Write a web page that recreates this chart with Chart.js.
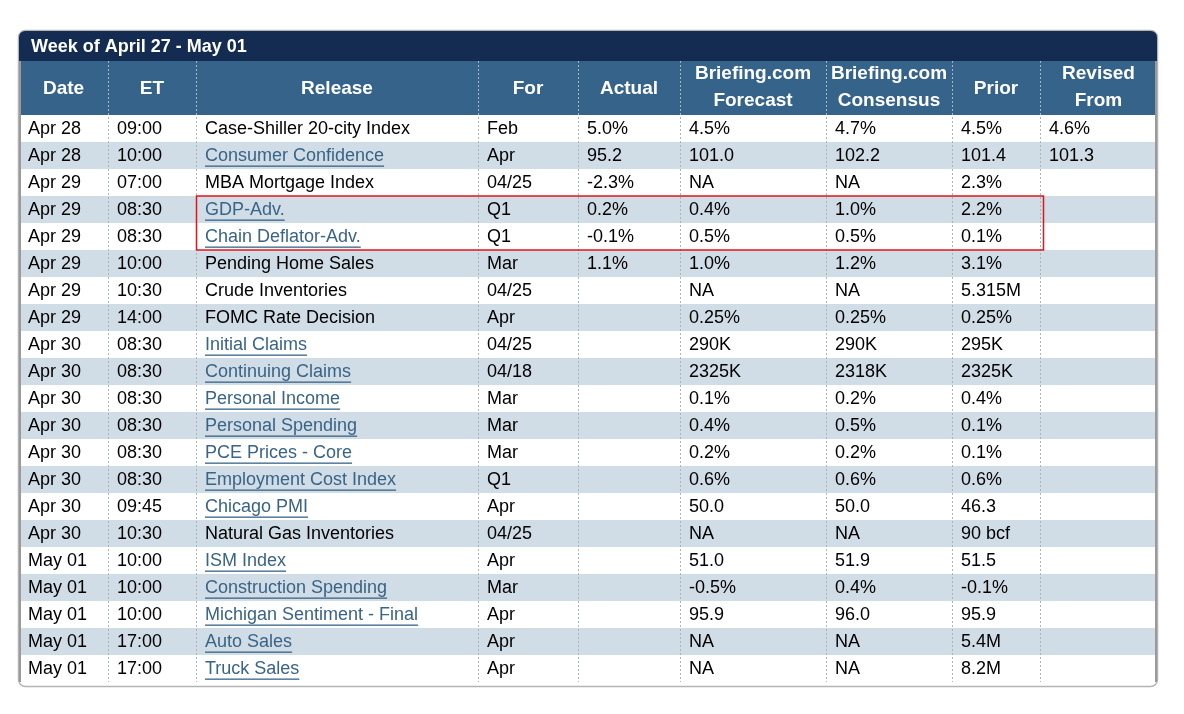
<!DOCTYPE html><html><head><meta charset="utf-8">
<script src="https://cdn.jsdelivr.net/npm/chart.js@4"></script>
<style>html,body{margin:0;background:#fff}#wrap{width:1184px;height:714px}</style></head><body>
<div id="wrap"><canvas id="c" width="1184" height="714"></canvas></div>
<script>
const title = "Week of April 27 - May 01";
const headers = [["Date"],["ET"],["Release"],["For"],["Actual"],["Briefing.com","Forecast"],["Briefing.com","Consensus"],["Prior"],["Revised","From"]];
const dates = ["Apr 28","Apr 28","Apr 29","Apr 29","Apr 29","Apr 29","Apr 29","Apr 29","Apr 30","Apr 30","Apr 30","Apr 30","Apr 30","Apr 30","Apr 30","Apr 30","May 01","May 01","May 01","May 01","May 01"];
const times = ["09:00","10:00","07:00","08:30","08:30","10:00","10:30","14:00","08:30","08:30","08:30","08:30","08:30","08:30","09:45","10:30","10:00","10:00","10:00","17:00","17:00"];
const releases = ["Case-Shiller 20-city Index","Consumer Confidence","MBA Mortgage Index","GDP-Adv.","Chain Deflator-Adv.","Pending Home Sales","Crude Inventories","FOMC Rate Decision","Initial Claims","Continuing Claims","Personal Income","Personal Spending","PCE Prices - Core","Employment Cost Index","Chicago PMI","Natural Gas Inventories","ISM Index","Construction Spending","Michigan Sentiment - Final","Auto Sales","Truck Sales"];
const isLink = [0,1,0,1,1,0,0,0,1,1,1,1,1,1,1,0,1,1,1,1,1];
const periods = ["Feb","Apr","04/25","Q1","Q1","Mar","04/25","Apr","04/25","04/18","Mar","Mar","Mar","Q1","Apr","04/25","Apr","Mar","Apr","Apr","Apr"];
const actual = ["5.0%","95.2","-2.3%","0.2%","-0.1%","1.1%","","","","","","","","","","","","","","",""];
const forecast = ["4.5%","101.0","NA","0.4%","0.5%","1.0%","NA","0.25%","290K","2325K","0.1%","0.4%","0.2%","0.6%","50.0","NA","51.0","-0.5%","95.9","NA","NA"];
const consensus = ["4.7%","102.2","NA","1.0%","0.5%","1.2%","NA","0.25%","290K","2318K","0.2%","0.5%","0.2%","0.6%","50.0","NA","51.9","0.4%","96.0","NA","NA"];
const prior = ["4.5%","101.4","2.3%","2.2%","0.1%","3.1%","5.315M","0.25%","295K","2325K","0.4%","0.1%","0.1%","0.6%","46.3","90 bcf","51.5","-0.1%","95.9","5.4M","8.2M"];
const revised = ["4.6%","101.3","","","","","","","","","","","","","","","","","","",""];
const highlighted = [3,4];

const colW = [89,88,282,100,102,146,126,88,117];
const columns = [dates,times,releases,periods,actual,forecast,consensus,prior,revised];
const F = '"Liberation Sans", Arial, sans-serif';

const tablePlugin = {
  id:'table',
  beforeDatasetsDraw(chart){
    const ctx = chart.ctx, a = chart.chartArea, y = chart.scales.y;
    const L=a.left, R=a.right, T=a.top, B=a.bottom;
    const rowH = (B-T)/dates.length;
    const top0 = 31, hdrTop = 61;
    ctx.save();
    // outer border
    ctx.beginPath(); ctx.roundRect(L-0.5, top0-0.5, R-L+1, B-top0+5, 7);
    ctx.fillStyle='#fff'; ctx.fill();
    ctx.strokeStyle='#b4b4b4'; ctx.lineWidth=1.5; ctx.stroke();
    // title bar
    ctx.beginPath(); ctx.roundRect(L, top0, R-L, hdrTop-top0, [6,6,0,0]);
    ctx.fillStyle='#142b52'; ctx.fill();
    ctx.fillStyle='#fff'; ctx.font='bold 18px '+F; ctx.textBaseline='middle'; ctx.textAlign='left';
    ctx.fillText(title, L+12, 47);
    // header
    ctx.fillStyle='#35638a'; ctx.fillRect(L, hdrTop, R-L, T-hdrTop);
    ctx.font='bold 19px '+F; ctx.textAlign='center'; ctx.fillStyle='#fff';
    let x=L;
    headers.forEach((h,i)=>{
      const cx = x+colW[i]/2;
      if(h.length===1) ctx.fillText(h[0], cx, (hdrTop+T)/2+1);
      else { ctx.fillText(h[0], cx, hdrTop+13); ctx.fillText(h[1], cx, hdrTop+40); }
      x+=colW[i];
    });
    // rows
    ctx.font='18px '+F; ctx.textAlign='left';
    dates.forEach((d,r)=>{
      const cy = y.getPixelForValue(r);
      if(r%2===1){ ctx.fillStyle='#d0dde6'; ctx.fillRect(L, cy-rowH/2, R-L, rowH); }
      let x=L;
      columns.forEach((col,c)=>{
        const t = col[r];
        if(t){
          const link = c===2 && isLink[r];
          ctx.fillStyle = link ? '#3a6486' : '#000';
          ctx.fillText(t, x+9, cy+1);
          if(link){ const w=ctx.measureText(t).width; ctx.fillRect(x+9, cy+10, w, 1.3); }
        }
        x+=colW[c];
      });
    });
    // separators
    ctx.strokeStyle='#aab4bd'; ctx.lineWidth=1; ctx.setLineDash([2,2]);
    x=L;
    for(let i=0;i<colW.length-1;i++){ x+=colW[i]; ctx.beginPath(); ctx.moveTo(Math.round(x)+0.5, hdrTop); ctx.lineTo(Math.round(x)+0.5, B); ctx.stroke(); }
    ctx.setLineDash([]);
    ctx.fillStyle='#9a9a9a'; ctx.fillRect(L, hdrTop, 2, B-hdrTop); ctx.fillRect(R-2, hdrTop, 2, B-hdrTop);
    // highlight
    const h0=y.getPixelForValue(highlighted[0])-rowH/2, h1=y.getPixelForValue(highlighted[highlighted.length-1])+rowH/2;
    ctx.strokeStyle='#e0161b'; ctx.lineWidth=1.5;
    ctx.strokeRect(L+colW[0]+colW[1]+0.5, h0, 847, h1-h0);
    ctx.restore();
  }
};

new Chart(document.getElementById('c'),{
  type:'bar',
  data:{labels:dates.map((d,i)=>i), datasets:[{data:dates.map(()=>null)}]},
  options:{
    responsive:false, animation:false, events:[],
    layout:{padding:{left:19,right:27,top:115,bottom:32}},
    plugins:{legend:{display:false},tooltip:{enabled:false}},
    scales:{
      x:{type:'linear',min:0,max:1,display:false},
      y:{type:'category',display:false,offset:true}
    },
    indexAxis:'y'
  },
  plugins:[tablePlugin]
});
</script></body></html>
